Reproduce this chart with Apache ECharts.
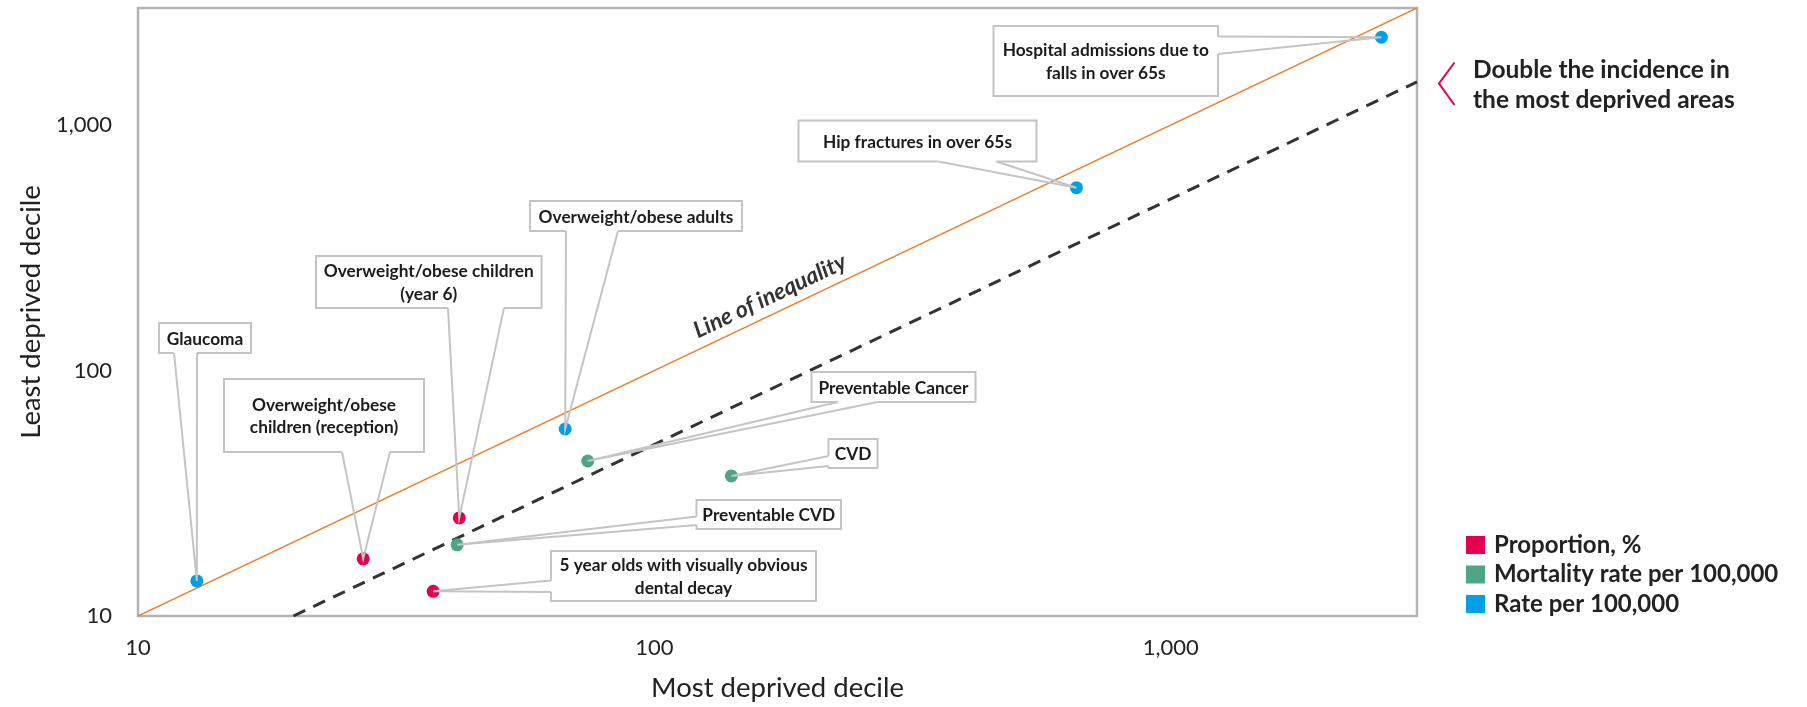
<!DOCTYPE html>
<html>
<head>
<meta charset="utf-8">
<script src="https://cdn.jsdelivr.net/npm/echarts@6/dist/echarts.min.js"></script>
<style>
html,body{margin:0;padding:0;background:#fff;}
#chart{width:1807px;height:707px;}
</style>
</head>
<body>
<div id="chart"></div>
<script>
// ---- data ----
const categories = [
  'Glaucoma',
  'Overweight/obese\nchildren (reception)',
  'Overweight/obese children\n(year 6)',
  'Overweight/obese adults',
  'Preventable Cancer',
  'CVD',
  'Preventable CVD',
  '5 year olds with visually obvious\ndental decay',
  'Hip fractures in over 65s',
  'Hospital admissions due to\nfalls in over 65s'
];
const mostDeprived  = [13.0, 27.3, 41.9, 67.2, 74.3, 141, 41.5, 37.3, 657, 2560];
const leastDeprived = [13.9, 17.1, 25.1, 57.8, 42.8, 37.2, 19.5, 12.6, 556, 2280];
const measureType   = [2, 0, 0, 2, 1, 1, 1, 0, 2, 2];
const measureNames  = ['Proportion, %', 'Mortality rate per 100,000', 'Rate per 100,000'];
const equalityLine  = [[10, 10], [3000, 3000]];
const doubleLine    = [[20, 10], [3000, 1500]];
const axisTicks     = [10, 100, 1000];
const axisMin = 10, axisMax = 3000;

// ---- styles / layout ----
const colors = ['#e4004f', '#4da584', '#009fe3'];
const boxStroke = '#c4c4c4';
// annotation boxes: [x1, y1, x2, y2], pointer side, base positions on that side
const annLayout = [
  {box: [159, 323, 251, 353], side: 'bottom', base: [174, 197]},
  {box: [224, 379, 424, 452], side: 'bottom', base: [342, 390]},
  {box: [316, 256, 541.5, 308], side: 'bottom', base: [448, 504]},
  {box: [530, 201, 742, 231], side: 'bottom', base: [566, 618]},
  {box: [811.5, 372, 975.5, 402], side: 'bottom', base: [838, 877.5]},
  {box: [828.5, 439, 877.5, 468], side: 'left', base: [456, 466]},
  {box: [696.5, 500, 841, 529], side: 'left', base: [516.5, 525]},
  {box: [551, 551, 816, 601], side: 'left', base: [580.5, 592]},
  {box: [798.5, 120.5, 1036.5, 161.5], side: 'bottom', base: [938.5, 996.5]},
  {box: [993.5, 26, 1218, 96], side: 'right', base: [36.5, 54]}
];

const chart = echarts.init(document.getElementById('chart'), null, {renderer: 'canvas'});

function fmt(v) {
  const l = Math.log10(v);
  if (Math.abs(l - Math.round(l)) > 1e-6 || axisTicks.indexOf(Math.round(v)) < 0) return '';
  return Math.round(v).toLocaleString('en-US');
}

const axisCommon = {
  type: 'log',
  logBase: 10,
  min: axisMin,
  max: axisMax,
  splitLine: {show: false},
  axisTick: {show: false},
  axisLine: {show: false},
  nameLocation: 'middle',
  nameTextStyle: {fontFamily: 'Lato', fontSize: 27.5, color: '#222'},
  axisLabel: {formatter: fmt, fontFamily: 'Lato', fontSize: 22, color: '#222'}
};

const scatterSeries = measureNames.map((nm, k) => ({
  name: nm,
  type: 'scatter',
  symbol: 'circle',
  symbolSize: 13,
  itemStyle: {color: colors[k], opacity: 1},
  z: 5,
  data: mostDeprived.map((x, i) => measureType[i] === k ? [x, leastDeprived[i]] : null).filter(d => d)
}));

chart.setOption({
  animation: false,
  backgroundColor: '#fff',
  grid: {left: 138, right: 390, top: 8, bottom: 90.5, show: true, borderColor: '#b3b3b3', borderWidth: 2.5, backgroundColor: 'transparent'},
  xAxis: Object.assign({}, axisCommon, {
    name: 'Most deprived decile', nameGap: 58,
    axisLabel: Object.assign({}, axisCommon.axisLabel, {margin: 21})
  }),
  yAxis: Object.assign({}, axisCommon, {
    name: 'Least deprived decile', nameGap: 93,
    axisLabel: Object.assign({}, axisCommon.axisLabel, {margin: 26})
  }),
  legend: {
    data: measureNames,
    orient: 'vertical',
    left: 1466, top: 533,
    padding: 0,
    icon: 'rect',
    itemWidth: 19, itemHeight: 18, itemGap: 5.5,
    itemStyle: {opacity: 1},
    textStyle: {fontFamily: 'Lato', fontWeight: 'bold', fontSize: 24, lineHeight: 18, color: '#222', padding: [0, 0, 0, 4]}
  },
  series: [
    {
      type: 'line', data: equalityLine, symbol: 'none', z: 2, silent: true,
      lineStyle: {color: '#f08030', width: 1.3},
      markLine: {
        silent: true, symbol: 'none',
        lineStyle: {color: '#f08030', width: 1.3, type: 'solid'},
        label: {show: true, position: 'insideMiddleTop', distance: 6, formatter: 'Line of inequality',
          fontFamily: 'Lato', fontStyle: 'italic', fontWeight: 'bold', fontSize: 23, color: '#333'},
        data: [[{coord: equalityLine[0]}, {coord: equalityLine[1]}]]
      }
    },
    {
      type: 'line', data: doubleLine, symbol: 'none', z: 2, silent: true,
      lineStyle: {color: '#333', width: 3, type: [13, 9]}
    }
  ].concat(scatterSeries)
});

// annotations (callout boxes) positioned at point pixels via axis scales
const graphics = [];
categories.forEach((label, i) => {
  const L = annLayout[i];
  const tip = chart.convertToPixel({gridIndex: 0}, [mostDeprived[i], leastDeprived[i]]);
  const [x1, y1, x2, y2] = L.box;
  let b1, b2;
  if (L.side === 'bottom') { b1 = [L.base[0], y2]; b2 = [L.base[1], y2]; }
  else if (L.side === 'left') { b1 = [x1, L.base[0]]; b2 = [x1, L.base[1]]; }
  else { b1 = [x2, L.base[0]]; b2 = [x2, L.base[1]]; }
  graphics.push({
    type: 'rect', z: 100,
    shape: {x: x1, y: y1, width: x2 - x1, height: y2 - y1},
    style: {fill: '#fff', stroke: boxStroke, lineWidth: 2}
  });
  graphics.push({
    type: 'line', z: 101,
    shape: {x1: b1[0], y1: b1[1], x2: b2[0], y2: b2[1]},
    style: {stroke: '#fff', lineWidth: 3}
  });
  graphics.push({
    type: 'polyline', z: 102,
    shape: {points: [b1, tip, b2]},
    style: {stroke: boxStroke, lineWidth: 2, fill: null}
  });
  graphics.push({
    type: 'text', z: 103,
    style: {
      x: (x1 + x2) / 2, y: (y1 + y2) / 2 + 1,
      text: label, textAlign: 'center', textVerticalAlign: 'middle',
      fontFamily: 'Lato', fontWeight: 'bold', fontSize: 17.3, lineHeight: 22.6, fill: '#1b1b1b'
    }
  });
});
graphics.push({
  type: 'polyline', z: 100,
  shape: {points: [[1454.5, 62.5], [1439, 83.5], [1454.5, 105]]},
  style: {stroke: '#e4004f', lineWidth: 2, fill: null}
});
graphics.push({
  type: 'text', z: 100,
  style: {
    x: 1473, y: 85, text: 'Double the incidence in\nthe most deprived areas',
    textAlign: 'left', textVerticalAlign: 'middle',
    fontFamily: 'Lato', fontWeight: 'bold', fontSize: 24.5, lineHeight: 29.5, fill: '#222'
  }
});
chart.setOption({graphic: graphics});
</script>
</body>
</html>
